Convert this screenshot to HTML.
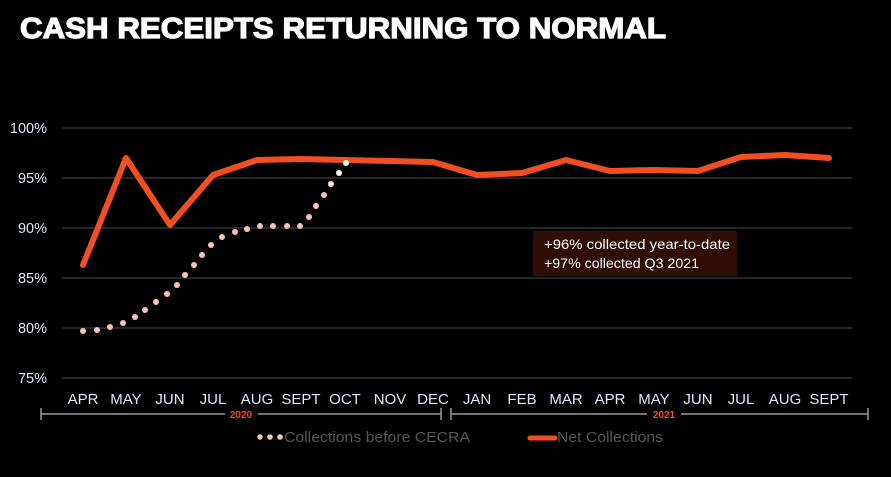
<!DOCTYPE html>
<html><head><meta charset="utf-8"><style>
html,body{margin:0;padding:0;background:#000;width:891px;height:477px;overflow:hidden}
</style></head><body>
<svg width="891" height="477" viewBox="0 0 891 477" xmlns="http://www.w3.org/2000/svg" font-family="Liberation Sans, Arial, sans-serif">
<rect width="891" height="477" fill="#000"/>
<text x="20" y="38" fill="#fff" font-size="29" font-weight="bold" textLength="646" lengthAdjust="spacingAndGlyphs" stroke="#fff" stroke-width="1.2">CASH RECEIPTS RETURNING TO NORMAL</text>
<g stroke="#3c3c3c" stroke-width="1.2">
<line x1="62" y1="128" x2="852" y2="128"/><line x1="62" y1="178" x2="852" y2="178"/>
<line x1="62" y1="228" x2="852" y2="228"/><line x1="62" y1="278" x2="852" y2="278"/>
<line x1="62" y1="328" x2="852" y2="328"/><line x1="62" y1="378" x2="852" y2="378"/>
</g>
<g fill="#dfe8f5" font-size="14.5" text-anchor="end">
<text x="47" y="133">100%</text><text x="47" y="183">95%</text><text x="47" y="233">90%</text>
<text x="47" y="283">85%</text><text x="47" y="333">80%</text><text x="47" y="383">75%</text>
</g>
<g fill="#dfe8f5" font-size="15" text-anchor="middle">
<text x="83" y="404">APR</text><text x="126" y="404">MAY</text><text x="170" y="404">JUN</text><text x="213" y="404">JUL</text>
<text x="257" y="404">AUG</text><text x="301" y="404">SEPT</text><text x="345" y="404">OCT</text><text x="390" y="404">NOV</text>
<text x="433" y="404">DEC</text><text x="477" y="404">JAN</text><text x="522" y="404">FEB</text><text x="566" y="404">MAR</text>
<text x="610" y="404">APR</text><text x="654" y="404">MAY</text><text x="698" y="404">JUN</text><text x="741" y="404">JUL</text>
<text x="785" y="404">AUG</text><text x="829" y="404">SEPT</text>
</g>
<g stroke="#999" stroke-width="1.5">
<line x1="41" y1="414" x2="225" y2="414"/><line x1="258" y1="414" x2="441" y2="414"/>
<line x1="41" y1="408" x2="41" y2="420"/><line x1="441" y1="408" x2="441" y2="420"/>
<line x1="451" y1="414" x2="647" y2="414"/><line x1="681" y1="414" x2="868" y2="414"/>
<line x1="451" y1="408" x2="451" y2="420"/><line x1="868" y1="408" x2="868" y2="420"/>
</g>
<g fill="#f04e23" font-size="10" font-weight="bold" text-anchor="middle">
<text x="241" y="418">2020</text><text x="664" y="418">2021</text>
</g>
<rect x="533" y="231" width="204" height="45" fill="#2e0e05"/>
<g fill="#fff" font-size="14">
<text x="544" y="249" textLength="186" lengthAdjust="spacingAndGlyphs">+96% collected year-to-date</text>
<text x="544" y="268" textLength="155" lengthAdjust="spacingAndGlyphs">+97% collected Q3 2021</text>
</g>
<polyline fill="none" stroke="#f04e23" stroke-width="6" stroke-linejoin="round" stroke-linecap="round"
points="83,265 126,158 170,225 213,175 257,160 301,159 345,160 390,161 433,162 477,175 522,173 566,160 610,171 654,170 698,171 741,157 785,155 829,158"/>
<g fill="#f6c4b2">
<circle cx="83" cy="331" r="3"/><circle cx="97" cy="330" r="3"/><circle cx="110" cy="327" r="3"/><circle cx="123" cy="323" r="3"/>
<circle cx="135" cy="317" r="3"/><circle cx="145" cy="310" r="3"/><circle cx="156" cy="302" r="3"/><circle cx="167" cy="294" r="3"/>
<circle cx="177" cy="285" r="3"/><circle cx="185" cy="275" r="3"/><circle cx="194" cy="265" r="3"/><circle cx="202" cy="255" r="3"/>
<circle cx="211" cy="245" r="3"/><circle cx="222" cy="237" r="3"/><circle cx="235" cy="232" r="3"/><circle cx="247" cy="229" r="3"/>
<circle cx="260" cy="226" r="3"/><circle cx="273" cy="226" r="3"/><circle cx="287" cy="226" r="3"/><circle cx="300" cy="226" r="3"/>
<circle cx="309" cy="217" r="3"/><circle cx="316" cy="206" r="3"/><circle cx="324" cy="195" r="3"/>
<circle cx="331" cy="184" r="3" fill="#fbe2d8"/><circle cx="339" cy="173" r="3" fill="#fdf0ea"/><circle cx="346" cy="163" r="3" fill="#fff"/>
</g>
<g fill="#f6c4b2"><circle cx="260" cy="437" r="2.8"/><circle cx="270" cy="437" r="2.8"/><circle cx="280" cy="437" r="2.8"/></g>
<text x="284" y="442" fill="#555" font-size="15" textLength="186" lengthAdjust="spacingAndGlyphs">Collections before CECRA</text>
<line x1="530" y1="438" x2="555" y2="438" stroke="#f04e23" stroke-width="5" stroke-linecap="round"/>
<text x="557" y="442" fill="#555" font-size="15" textLength="106" lengthAdjust="spacingAndGlyphs">Net Collections</text>
</svg>
</body></html>
